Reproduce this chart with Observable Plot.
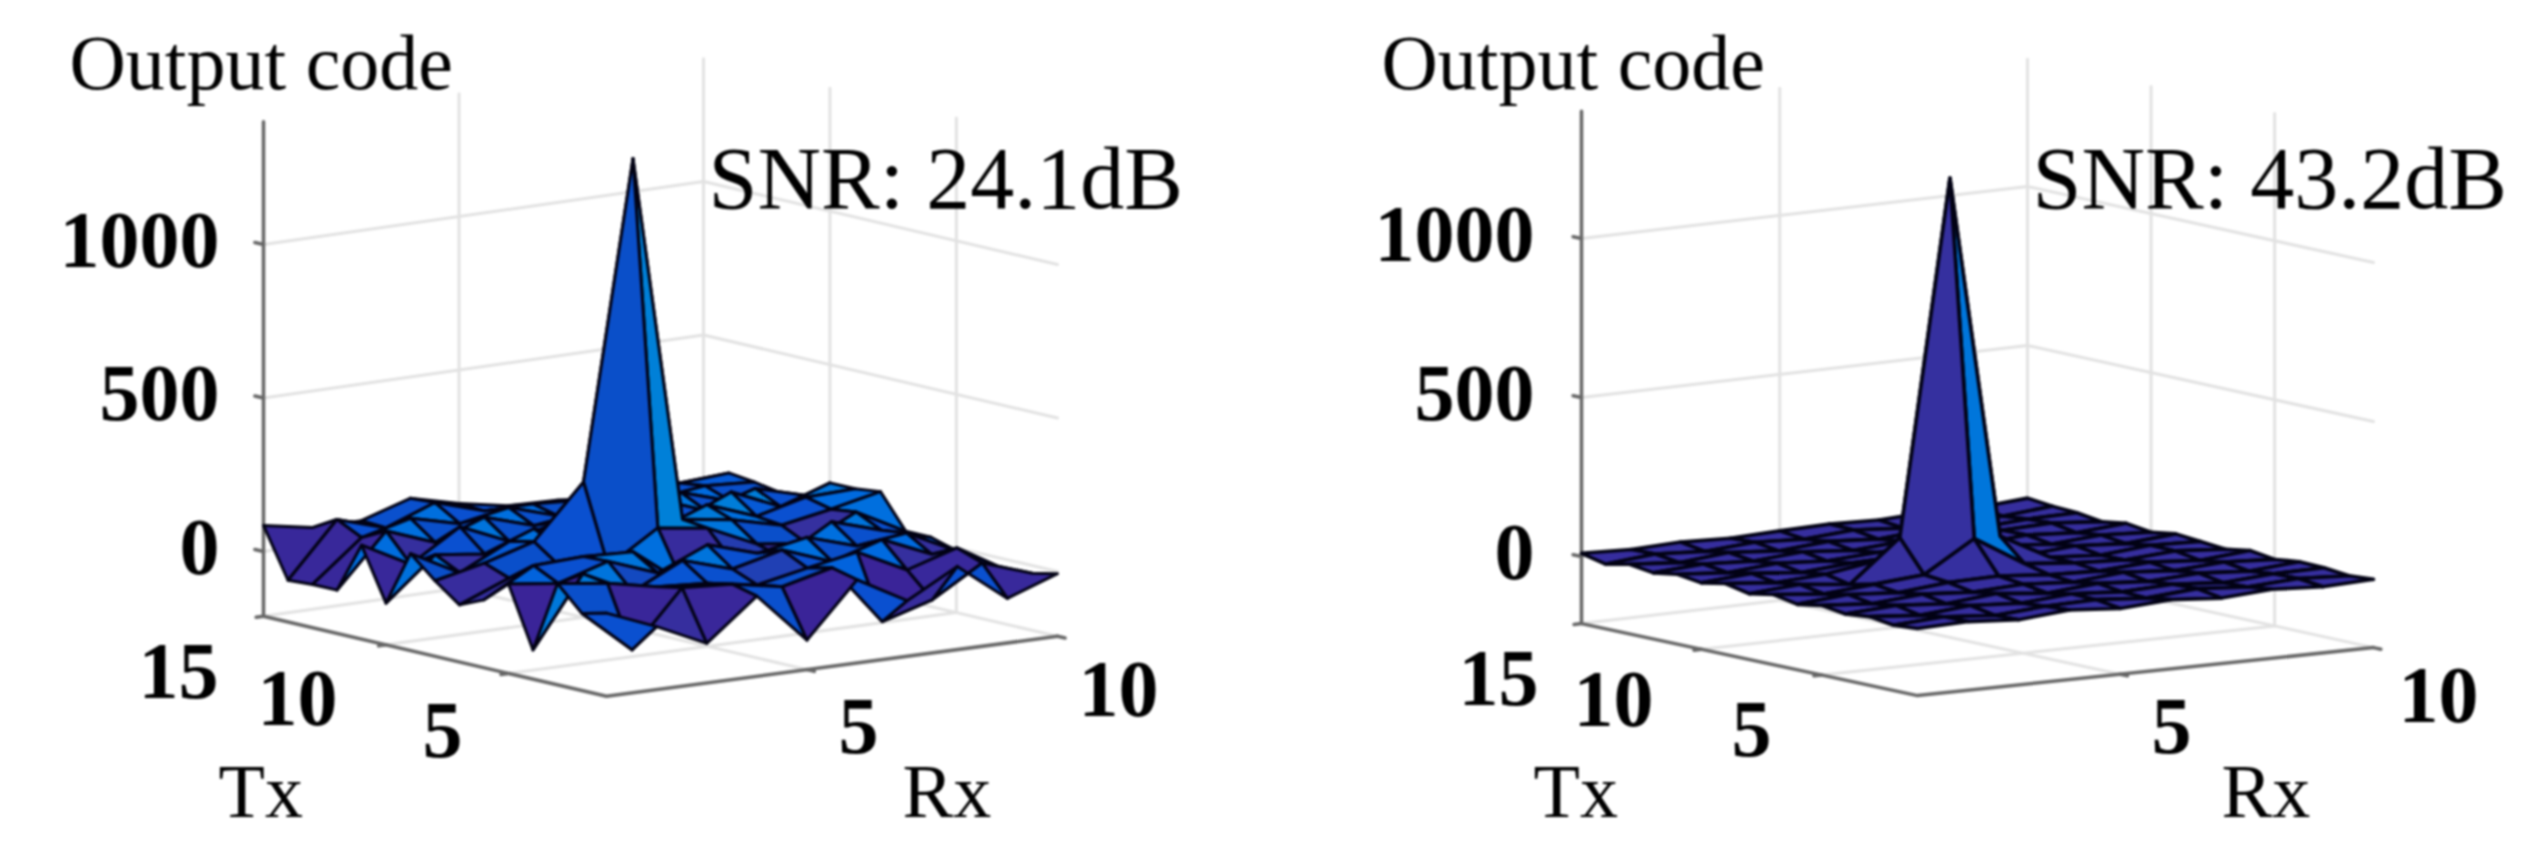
<!DOCTYPE html>
<html>
<head>
<meta charset="utf-8">
<script src="https://cdn.jsdelivr.net/npm/d3@7"></script>
<script src="https://cdn.jsdelivr.net/npm/@observablehq/plot@0.6"></script>
<style>
html,body{margin:0;padding:0;background:#fff;}
svg{display:block;filter:blur(0.9px);}
</style>
</head>
<body>
<div id="chart"></div>
<script>
// ---- data ----
const rxValues = [1,2,3,4,5,6,7,8,9,10];
const txValues = [1,2,3,4,5,6,7,8,9,10,11,12,13,14,15];
const zTicks = [0,500,1000];
const txTicks = [5,10,15];
const rxTicks = [5,10];
const titleLabel = "Output code";
const snrLeft = "SNR: 24.1dB";
const snrRight = "SNR: 43.2dB";

// rows: Tx 1..15, columns: Rx 1..10
const zLeft = [
 [60,-6,-82,50,-115,60,-30,60,-66,-7],
 [40,-100,80,70,40,80,-117,-68,30,-25],
 [119,98,65,54,27,60,90,10,60,-35],
 [-116,110,30,110,60,100,40,90,20,-30],
 [80,60,110,50,120,70,100,50,70,-10],
 [10,100,107,100,-23,26,15,110,60,15],
 [-25,40,60,34,137,114,40,20,100,15],
 [35,70,118,290,1321,124,100,60,90,125],
 [105,20,100,60,180,70,130,70,110,115],
 [-75,60,40,100,50,120,60,130,60,115],
 [95,10,110,40,80,60,110,50,100,55],
 [-70,100,40,100,50,70,40,90,40,45],
 [-70,60,100,60,90,40,60,50,70,60],
 [-75,100,50,110,60,60,50,30,60,70],
 [85,55,55,105,65,35,30,15,0,-30]
];
const zRight = [
 [0,5,-6,8,-4,7,-5,6,-3,4],
 [-6,4,-9,3,7,-5,8,-4,6,-2],
 [5,-8,6,-4,9,-2,5,-7,4,6],
 [-3,7,-5,10,-6,8,-3,6,-5,8],
 [8,-4,9,-2,6,-5,9,-3,7,-2],
 [-5,9,-3,12,15,2,-4,7,-5,9],
 [10,-6,7,20,116,20,5,-3,8,-4],
 [-4,8,-10,120,1233,90,6,-5,9,3],
 [12,-3,6,30,100,20,-4,8,-3,10],
 [-2,10,-5,7,12,-5,9,-4,7,-2],
 [9,-4,8,-3,6,11,-5,8,-3,9],
 [-3,7,-2,10,-4,7,-2,6,11,-3],
 [8,-5,9,-4,8,-3,10,-4,6,8],
 [-8,6,-4,7,-2,9,-3,8,-2,12],
 [10,4,9,3,8,11,6,13,9,20]
];

// ---- view of each panel (floor corners, z=0 height, units to pixels) ----
const panels = [
 {id:"left", z:zLeft, snr:snrLeft,
  cornerX:{F:606,R:1057,L:263,B:703}, zeroY:{F:631,R:571,L:551,B:488}, zScale:0.307,
  title:[69,88], snrAt:[708,207], txAt:[218,816], rxAt:[902,816],
  zLabelEnd:219, txLabels:[[462,756],[337,724],[218,697]], rxLabels:[[878,752],[1158,715]]},
 {id:"right", z:zRight, snr:snrRight,
  cornerX:{F:1917,R:2373,L:1581,B:2027}, zeroY:{F:628,R:580,L:556,B:504}, zScale:0.318,
  title:[1381,88], snrAt:[2032,207], txAt:[1533,816], rxAt:[2221,816],
  zLabelEnd:1534, txLabels:[[1771,755],[1653,725],[1538,704]], rxLabels:[[2191,752],[2478,721]]}
];
const zFloor = -211, zTop = 1400;

function project(p, rx, tx, z){
  const u=(rx-1)/9, v=(tx-1)/14;
  const bil=c=>(1-v)*((1-u)*c.F+u*c.R)+v*((1-u)*c.L+u*c.B);
  return {x:bil(p.cornerX), y:bil(p.zeroY)-p.zScale*z};
}

const facets=[], grid=[], axes=[], texts=[];
let id=0;
const addLine=(arr,p,pts)=>{id++;pts.forEach(q=>{const a=project(p,q[0],q[1],q[2]);arr.push({x:a.x,y:a.y,id});});};

for(const p of panels){
  for(const z of [...zTicks,zFloor]) addLine(grid,p,[[1,15,z],[10,15,z],[10,1,z]]);
  for(const r of rxTicks) addLine(grid,p,[[r,15,zFloor],[r,15,zTop]]);
  for(const t of txTicks.filter(t=>t<15)) addLine(grid,p,[[10,t,zFloor],[10,t,zTop]]);
  for(const r of rxTicks.filter(r=>r<10)) addLine(grid,p,[[r,1,zFloor],[r,15,zFloor]]);
  for(const t of txTicks.filter(t=>t<15)) addLine(grid,p,[[1,t,zFloor],[10,t,zFloor]]);
  addLine(axes,p,[[1,15,zTop],[1,15,zFloor],[1,1,zFloor],[10,1,zFloor]]);
  for(const z of zTicks) addLine(axes,p,[[1,15,z],[1,15.35,z]]);
  for(const t of txTicks) addLine(axes,p,[[1,t,zFloor],[0.85,t,zFloor]]);
  for(const r of rxTicks) addLine(axes,p,[[r,1,zFloor],[r,0.7,zFloor]]);
  for(let ti=txValues.length-2;ti>=0;ti--){
    for(let ri=rxValues.length-2;ri>=0;ri--){
      id++;
      const c=[[ri,ti],[ri+1,ti],[ri+1,ti+1],[ri,ti+1],[ri,ti]];
      for(const [a,b] of c){
        const q=project(p,rxValues[a],txValues[b],p.z[b][a]);
        facets.push({x:q.x,y:q.y,id,v:p.z[ti][ri],panel:p.id});
      }
    }
  }
  texts.push({x:p.title[0],y:p.title[1],t:titleLabel,a:"start",w:"normal",s:78});
  texts.push({x:p.snrAt[0],y:p.snrAt[1],t:p.snr,a:"start",w:"normal",s:88});
  texts.push({x:p.txAt[0],y:p.txAt[1],t:"Tx",a:"start",w:"normal",s:76});
  texts.push({x:p.rxAt[0],y:p.rxAt[1],t:"Rx",a:"start",w:"normal",s:76});
  for(const z of zTicks){
    const q=project(p,1,15,z);
    texts.push({x:p.zLabelEnd,y:q.y+22,t:String(z),a:"end",w:"bold",s:80});
  }
  txTicks.forEach((t,i)=>texts.push({x:p.txLabels[i][0],y:p.txLabels[i][1],t:String(t),a:"end",w:"bold",s:80}));
  rxTicks.forEach((r,i)=>texts.push({x:p.rxLabels[i][0],y:p.rxLabels[i][1],t:String(r),a:"end",w:"bold",s:80}));
}

const textMark=(w,s,a)=>Plot.text(texts.filter(d=>d.w===w&&d.s===s&&d.a===a),{
  x:"x",y:"y",text:"t",textAnchor:a,lineAnchor:"bottom",fontFamily:"Liberation Serif",
  fontWeight:w,fontSize:s,fill:"#000"});
const surface=(name,width)=>Plot.line(facets.filter(d=>d.panel===name),{
  x:"x",y:"y",z:"id",fill:"v",stroke:"#020214",strokeWidth:width,strokeLinejoin:"round"});

const chart=Plot.plot({
  width:2542,height:854,margin:0,
  style:{background:"#fff"},
  x:{domain:[0,2542],range:[0,2542],axis:null},
  y:{domain:[0,854],range:[0,854],axis:null},
  color:{type:"linear",domain:[-120,22,32,60,85,137,300],
         range:["#3a2498","#35309f","#0a4fc8","#0a50d0","#0068e0","#0080d8","#0080d8"],clamp:true},
  marks:[
    Plot.line(grid,{x:"x",y:"y",z:"id",stroke:"#e2e2e2",strokeWidth:3}),
    Plot.line(axes,{x:"x",y:"y",z:"id",stroke:"#666",strokeWidth:3.5}),
    surface("left",3),
    surface("right",3.6),
    ...[["normal",78,"start"],["normal",88,"start"],["normal",76,"start"]].map(a=>textMark(...a)),
    textMark("bold",80,"end")
  ]
});
document.getElementById("chart").append(chart);
</script>
</body>
</html>
